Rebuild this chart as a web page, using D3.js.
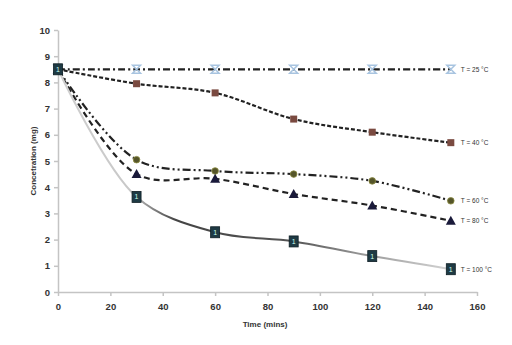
<!DOCTYPE html>
<html><head><meta charset="utf-8">
<script src="https://cdn.jsdelivr.net/npm/d3@7"></script>
<style>body{margin:0;background:#fff}svg{display:block}</style>
</head><body>
<svg id="c" width="512" height="345"></svg>
<script>
const times = [0, 30, 60, 90, 120, 150];
const xTicks = [0, 20, 40, 60, 80, 100, 120, 140, 160];
const yTicks = [0, 1, 2, 3, 4, 5, 6, 7, 8, 9, 10];
const seriesNames = ["T = 25 °C", "T = 40 °C", "T = 60 °C", "T = 80 °C", "T = 100 °C"];
const t25 = [8.5, 8.5, 8.5, 8.5, 8.5, 8.5];
const t40 = [8.5, 7.95, 7.6, 6.6, 6.1, 5.7];
const t60 = [8.5, 5.05, 4.62, 4.5, 4.24, 3.48];
const t80 = [8.5, 4.5, 4.32, 3.74, 3.3, 2.72];
const t100 = [8.5, 3.63, 2.28, 1.93, 1.37, 0.87];

const svg = d3.select("#c");
const x = d3.scaleLinear().domain([0, 160]).range([58, 477]);
const y = d3.scaleLinear().domain([0, 10]).range([292, 30]);
const font = "Liberation Sans, Arial, sans-serif";

// axes
const xa = svg.append("g").attr("transform", "translate(0,292)")
  .call(d3.axisBottom(x).tickValues(xTicks).tickSize(4).tickPadding(7).tickSizeOuter(0));
const ya = svg.append("g").attr("transform", "translate(58,0)")
  .call(d3.axisLeft(y).tickValues(yTicks).tickSize(4).tickPadding(4).tickSizeOuter(0));
[xa, ya].forEach(a => {
  a.selectAll("path,line").attr("stroke", "#c4c4c4").attr("stroke-width", 1.5);
  a.selectAll("text").attr("font-family", font).attr("font-size", 9.5)
    .attr("font-weight", "bold").attr("fill", "#333");
});

svg.append("text").attr("x", 265).attr("y", 327).attr("text-anchor", "middle")
  .attr("font-family", font).attr("font-size", 8).attr("font-weight", "bold").attr("fill", "#333")
  .text("Time (mins)");
svg.append("text").attr("transform", "translate(36,161) rotate(-90)").attr("text-anchor", "middle")
  .attr("font-family", font).attr("font-size", 8).attr("font-weight", "bold").attr("fill", "#333")
  .text("Concetration (mg)");

// gradient for T=100
const defs = svg.append("defs");
const g = defs.append("linearGradient").attr("id", "g100").attr("gradientUnits", "userSpaceOnUse")
  .attr("x1", x(0)).attr("x2", x(150)).attr("y1", 0).attr("y2", 0);
[[0, "#d0d0d0"], [0.18, "#c8c8c8"], [0.3, "#444"], [0.6, "#555"], [0.78, "#999"], [1, "#d4d4d4"]]
  .forEach(([o, c]) => g.append("stop").attr("offset", o).attr("stop-color", c));

const line = d3.line().x((d, i) => x(times[i])).y(d => y(d)).curve(d3.curveCatmullRom.alpha(0.5));

const series = [
  {name: seriesNames[0], data: t25, stroke: "#222", dash: "7,3,2,3", w: 2.2, marker: "x", mc: "#a8c4e0"},
  {name: seriesNames[1], data: t40, stroke: "#222", dash: "4,2", w: 2.2, marker: "sq", mc: "#7a4a40"},
  {name: seriesNames[2], data: t60, stroke: "#222", dash: "8,3,2,3,2,3", w: 2.2, marker: "circle", mc: "#55552a"},
  {name: seriesNames[3], data: t80, stroke: "#222", dash: "6,4", w: 2.2, marker: "tri", mc: "#1a1a3a"},
  {name: seriesNames[4], data: t100, stroke: "url(#g100)", dash: null, w: 2, marker: "box", mc: "#1e3a44"}
];

series.forEach(s => {
  svg.append("path").attr("d", line(s.data)).attr("fill", "none")
    .attr("stroke", s.stroke).attr("stroke-width", s.w)
    .attr("stroke-dasharray", s.dash);
});

function marker(s, cx, cy) {
  const gg = svg.append("g").attr("transform", `translate(${cx},${cy})`);
  if (s.marker === "x") {
    gg.append("path").attr("d", "M-4,-4L4,-4L-4,4L4,4Z").attr("fill", "none")
      .attr("stroke", s.mc).attr("stroke-width", 1.5);
  } else if (s.marker === "sq") {
    gg.append("rect").attr("x", -3.5).attr("y", -3.5).attr("width", 7).attr("height", 7).attr("fill", s.mc);
  } else if (s.marker === "circle") {
    gg.append("circle").attr("r", 3.3).attr("fill", s.mc).attr("stroke", "#8a8a40").attr("stroke-width", 0.8);
  } else if (s.marker === "tri") {
    gg.append("path").attr("d", "M0,-5L5,4L-5,4Z").attr("fill", s.mc);
  } else {
    gg.append("rect").attr("x", -4.5).attr("y", -5.5).attr("width", 9).attr("height", 11).attr("fill", s.mc)
      .attr("stroke", "#0e1e24").attr("stroke-width", 0.8);
    gg.append("text").attr("text-anchor", "middle").attr("y", 2.5).attr("font-size", 7)
      .attr("font-family", font).attr("fill", "#cfe").text("1");
  }
}

series.forEach(s => {
  s.data.forEach((v, i) => marker(s, x(times[i]), y(v)));
  svg.append("text").attr("x", x(150) + 10).attr("y", y(s.data[5]) + 2.5)
    .attr("font-family", font).attr("font-size", 6.5).attr("fill", "#333").text(s.name);
});
</script>
</body></html>
